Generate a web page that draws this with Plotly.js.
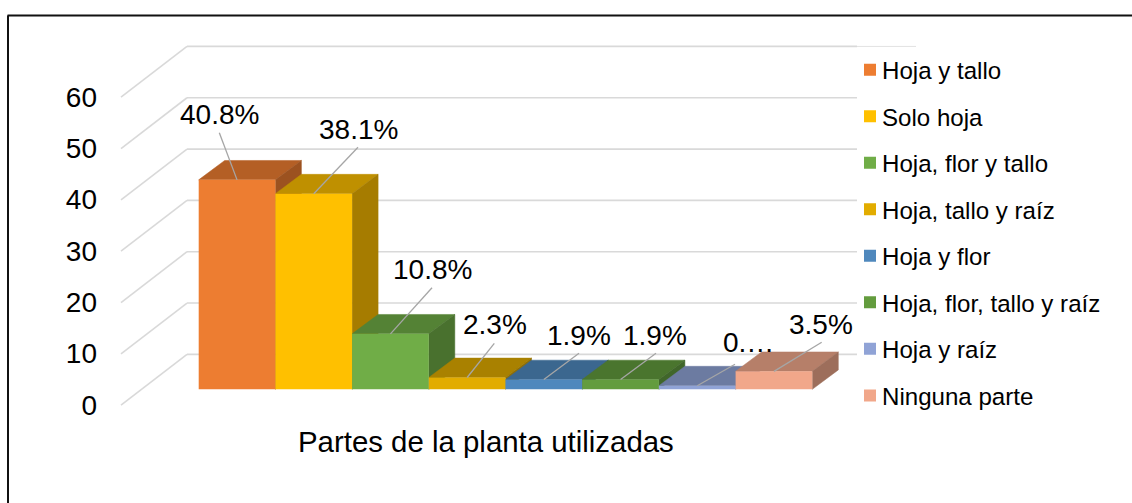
<!DOCTYPE html>
<html><head><meta charset="utf-8">
<script src="https://cdn.plot.ly/plotly-3.0.1.min.js"></script>
<style>html,body{margin:0;padding:0;background:#fff}#c{width:1132px;height:503px}</style>
</head><body><div id="c"></div>
<script>
// ---- data ----
const categories = ["Hoja y tallo","Solo hoja","Hoja, flor y tallo","Hoja, tallo y raíz","Hoja y flor","Hoja, flor, tallo y raíz","Hoja y raíz","Ninguna parte"];
const values = [40.8,38.1,10.8,2.3,1.9,1.9,0.7,3.5];
const labels = ["40.8%","38.1%","10.8%","2.3%","1.9%","1.9%","0.…","3.5%"];
const valueTicks = [0,10,20,30,40,50,60];
const axisTitle = "Partes de la planta utilizadas";
// ---- colours ----
const frontColors = ["#ED7D31","#FFC000","#70AD47","#E2AC00","#4F88BD","#639C3E","#90A3D6","#F1A78A"];
const topColors   = ["#B45F25","#BF9000","#548235","#A98100","#3B678F","#4A752E","#6C7BA1","#B67F69"];
const sideColors  = ["#9C5220","#A67C00","#49712E","#937000","#335979","#40662A","#5E6A8C","#9D6E5B"];
// ---- page geometry (px) ----
const W=1132,H=503,pxUnit=5.133,barW=76.7,barLeft=198.7,baseY=389.3;
const wallLeft=187,wallRight=857,wallBaseY=354.4,obliqueX=121,obliqueBaseY=405.2,tickBaseY=405;
const depthX=26,depthY=19.4;
const labelPx=[[219,114],[358,129],[432,269],[495,324],[579,335],[655,335],[748,342],[821,324]];
const leaderPx=[[219.3,132.7],[358,147.3],[432,287.7],[494.3,343.3],[579,353.3],[656,353.3],[735,364.3],[821.7,342.3]];
const legendLeft=857,legendTop=47.5,legendPitch=46.5,swatchShift=8;
const FS=28,LFS=24.1,TFS=29.4;
const FONT='"Liberation Sans",Arial,sans-serif';
// px <-> axis
const X=p=>(p-barLeft)/barW-0.5, Y=p=>(baseY-p)/pxUnit;
const dx=depthX/barW, dy=depthY/pxUnit;
const xr=[X(0),X(W)], yr=[Y(H),Y(0)];
const traces=[];
// depth faces on the lower subplot
values.forEach((v,i)=>{
  const l=i-0.5,r=i+0.5;
  traces.push({type:'scatter',mode:'lines',x:[l,l+dx,r+dx,r,l],y:[v,v+dy,v+dy,v,v],fill:'toself',fillcolor:topColors[i],line:{color:topColors[i],width:0.5},showlegend:false,hoverinfo:'skip',xaxis:'x',yaxis:'y'});
  traces.push({type:'scatter',mode:'lines',x:[r,r+dx,r+dx,r,r],y:[0,dy,v+dy,v,0],fill:'toself',fillcolor:sideColors[i],line:{color:sideColors[i],width:0.5},showlegend:false,hoverinfo:'skip',xaxis:'x',yaxis:'y'});
});
// front faces on the overlay subplot
values.forEach((v,i)=>{
  traces.push({type:'bar',x:[i],y:[v],width:1,name:categories[i],legendgroup:categories[i],marker:{color:frontColors[i],line:{width:0}},hoverinfo:'skip',xaxis:'x2',yaxis:'y2'});
});
// leader lines
values.forEach((v,i)=>{
  traces.push({type:'scatter',mode:'lines',x:[X(leaderPx[i][0]),i],y:[Y(leaderPx[i][1]),v],line:{color:'#A6A6A6',width:1.3},showlegend:false,hoverinfo:'skip',xaxis:'x2',yaxis:'y2'});
});
// gridlines
const shapes=[];
const gridLine={color:'#D9D9D9',width:1.6};
valueTicks.forEach(t=>{
  const wy=Y(wallBaseY-t*pxUnit), oy=Y(obliqueBaseY-t*pxUnit);
  shapes.push({type:'line',layer:'below',xref:'x',yref:'y',x0:X(wallLeft),x1:X(wallRight),y0:wy,y1:wy,line:gridLine});
  shapes.push({type:'line',layer:'below',xref:'x',yref:'y',x0:X(obliqueX),x1:X(wallLeft),y0:oy,y1:wy,line:gridLine});
});
const topY=Y(wallBaseY-60*pxUnit);
shapes.push({type:'line',layer:'below',xref:'x',yref:'y',x0:X(wallRight),x1:X(916),y0:topY,y1:topY,line:{color:'#E2E2E2',width:1}});
// frame (top and left edges only)
shapes.push({type:'line',layer:'above',xref:'paper',yref:'paper',x0:7.5/W,x1:1,y0:1-15.5/H,y1:1-15.5/H,line:{color:'#111',width:2}});
shapes.push({type:'line',layer:'above',xref:'paper',yref:'paper',x0:8/W,x1:8/W,y0:0,y1:1-15.5/H,line:{color:'#111',width:2}});
const annotations=labels.map((t,i)=>({xref:'x',yref:'y',x:X(labelPx[i][0]),y:Y(labelPx[i][1]),text:t,showarrow:false,xanchor:'center',yanchor:'middle',font:{family:FONT,size:FS,color:'#000'}}));
annotations.push({xref:'x',yref:'y',x:X(485.5),y:Y(441),text:axisTitle,showarrow:false,xanchor:'center',yanchor:'middle',font:{family:FONT,size:TFS,color:'#000'}});
const hidden={showgrid:false,zeroline:false,showticklabels:false,ticks:'',showline:false,fixedrange:true};
const layout={
  width:W,height:H,margin:{l:0,r:0,t:0,b:0,pad:0},paper_bgcolor:'#fff',plot_bgcolor:'rgba(0,0,0,0)',
  showlegend:true,barmode:'overlay',
  xaxis:{...hidden,range:xr,domain:[0,1]},
  yaxis:{...hidden,range:yr,domain:[0,1]},
  xaxis2:{...hidden,range:xr,overlaying:'x',anchor:'y2'},
  yaxis2:{...hidden,range:yr,overlaying:'y',anchor:'x2'},
  yaxis3:{overlaying:'y',anchor:'free',position:97/W,side:'left',range:[(tickBaseY-H)/pxUnit,tickBaseY/pxUnit],tickmode:'array',tickvals:valueTicks,ticktext:valueTicks.map(String),ticks:'',showgrid:false,zeroline:false,showline:false,fixedrange:true,tickfont:{family:FONT,size:FS,color:'#000'}},
  legend:{x:legendLeft/W,xanchor:'left',y:1-legendTop/H,yanchor:'top',indentation:-15,tracegroupgap:legendPitch-34.3,traceorder:'grouped',bgcolor:'rgba(0,0,0,0)',borderwidth:0,font:{family:FONT,size:LFS,color:'#000'},itemclick:false,itemdoubleclick:false},
  shapes,annotations
};
traces.push({type:'scatter',mode:'none',x:[],y:[],yaxis:'y3',xaxis:'x',showlegend:false,hoverinfo:'skip'});
Plotly.newPlot('c',traces,layout,{displayModeBar:false,staticPlot:true}).then(()=>{
  // Excel's legend keeps the swatch close to its text
  document.querySelectorAll('#c .legend .legendsymbols').forEach(s=>s.setAttribute('transform','translate('+swatchShift+',0)'));
});
</script></body></html>
